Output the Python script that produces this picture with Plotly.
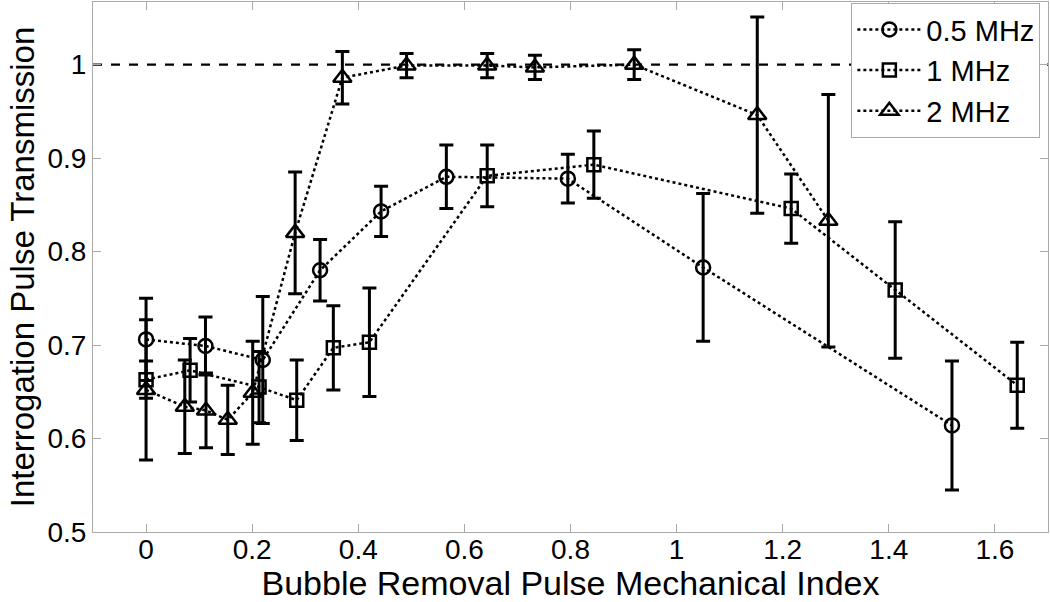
import plotly.graph_objects as go

# transmission vs mechanical index
mi_05 = [0, 0.112, 0.22, 0.328, 0.443, 0.566, 0.795, 1.050, 1.519]
tx_05 = [0.706, 0.699, 0.684, 0.780, 0.843, 0.880, 0.878, 0.783, 0.614]
err_05 = [0.044, 0.031, 0.068, 0.033, 0.027, 0.034, 0.026, 0.079, 0.069]

mi_1 = [0, 0.083, 0.213, 0.284, 0.353, 0.421, 0.643, 0.844, 1.216, 1.412, 1.642]
tx_1 = [0.663, 0.673, 0.655, 0.641, 0.697, 0.703, 0.881, 0.893, 0.846, 0.759, 0.657]
err_1 = [0.020, 0.034, 0.038, 0.043, 0.045, 0.058, 0.033, 0.036, 0.037, 0.073, 0.046]

mi_2 = [0, 0.073, 0.113, 0.154, 0.201, 0.281, 0.370, 0.491, 0.643, 0.733, 0.920, 1.152, 1.286]
tx_2 = [0.652, 0.634, 0.630, 0.620, 0.649, 0.820, 0.986, 0.999, 0.999, 0.997, 1.000, 0.946, 0.833]
err_2 = [0.075, 0.050, 0.040, 0.037, 0.055, 0.065, 0.028, 0.013, 0.013, 0.013, 0.016, 0.105, 0.135]

series = [
    ("0.5 MHz", mi_05, tx_05, err_05, "circle-open", 14),
    ("1 MHz", mi_1, tx_1, err_1, "square-open", 13),
    ("2 MHz", mi_2, tx_2, err_2, "triangle-up-open", 16),
]

x_ticks = [0, 0.2, 0.4, 0.6, 0.8, 1, 1.2, 1.4, 1.6]
y_ticks = [0.5, 0.6, 0.7, 0.8, 0.9, 1]

fig = go.Figure()

fig.add_hline(y=1.0, line=dict(color="black", width=2.2, dash="dash"), layer="below")

for name, x, y, err, sym, size in series:
    fig.add_trace(go.Scatter(
        x=x, y=y, name=name,
        mode="lines+markers",
        line=dict(color="black", width=2.5, dash="dot"),
        marker=dict(symbol=sym, size=size, color="black", line=dict(width=2.5, color="black")),
        error_y=dict(type="data", array=err, visible=True, color="black", thickness=3, width=7),
    ))

axis_common = dict(
    showline=True, linecolor="#aaaaaa", linewidth=1, mirror="allticks",
    ticks="inside", tickcolor="#aaaaaa", ticklen=8, showgrid=False, zeroline=False,
    tickfont=dict(size=28, color="black"), automargin=False,
)

fig.update_layout(
    width=1050, height=602,
    margin=dict(l=93, r=2, t=2, b=70),
    paper_bgcolor="white", plot_bgcolor="white",
    font=dict(family="Liberation Sans, Arial, sans-serif", color="black"),
    xaxis=dict(range=[-0.1, 1.7], tickvals=x_ticks, ticktext=[f"{v:g}" for v in x_ticks],
               ticklabelstandoff=-8,
               title=dict(text="Bubble Removal Pulse Mechanical Index", font=dict(size=34), standoff=2),
               **axis_common),
    yaxis=dict(range=[0.5, 1.067], tickvals=y_ticks, ticktext=[f"{v:g}" for v in y_ticks],
               title=dict(text="Interrogation Pulse Transmission", font=dict(size=33), standoff=2),
               **axis_common),
    legend=dict(x=0.992, y=0.998, xanchor="right", yanchor="top",
                bgcolor="white", bordercolor="#aaaaaa", borderwidth=1,
                font=dict(size=29), itemwidth=64, tracegroupgap=0),
)

fig.write_html("out.html", config={"displayModeBar": False},
               post_script="document.body.style.margin='0';")
